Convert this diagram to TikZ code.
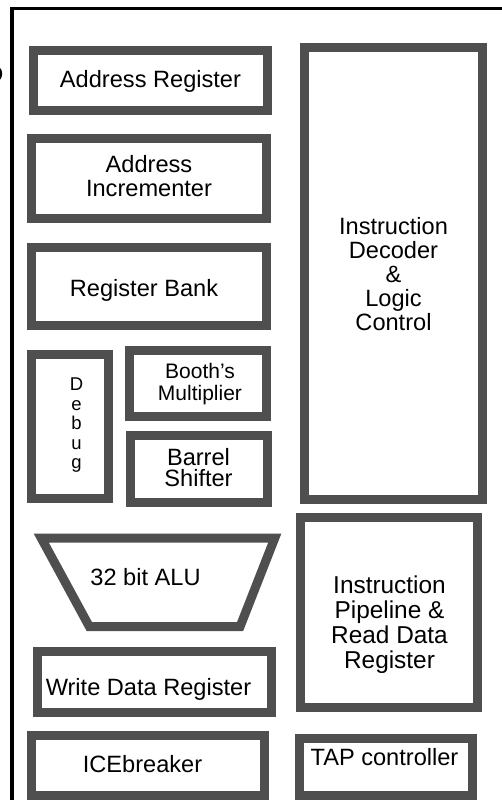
\documentclass[tikz,border=0pt]{standalone}
\usepackage{fontspec}
\setmainfont{Liberation Sans}
\definecolor{blockgray}{HTML}{4F4F4F}
\begin{document}
\begin{tikzpicture}[x=1pt,y=-1pt,
  blk/.style={draw=blockgray, line width=9pt, fill=white, inner sep=0pt},
  lbl/.style={inner sep=0pt, align=center, text=black,
              font=\fontsize{23.6pt}{24pt}\selectfont},
  small/.style={lbl, font=\fontsize{21pt}{22pt}\selectfont},
  tight/.style={lbl, font=\fontsize{23.6pt}{20.5pt}\selectfont},
  narrow/.style={lbl, font=\fontsize{18.5pt}{19.5pt}\selectfont},
  wide/.style={lbl, font=\fontsize{24.4pt}{25pt}\selectfont}]
\useasboundingbox (0,0) rectangle (501,800);

% chip outline (left and top edges)
\draw[line width=3.6pt] (12,830) -- (12,8.5) -- (530,8.5);

% piece of a neighbouring label at the far left
\begin{scope}
  \clip (0,0) rectangle (501,800);
  \node[lbl, anchor=base east] (edge) at (3.5,82) {D};
\end{scope}

% left column
\node[blk, minimum width=234pt, minimum height=60pt] (addr) at (150.5,80.5) {};
\node[blk, minimum width=234.5pt, minimum height=80pt] (incr) at (148.75,178.5) {};
\node[blk, minimum width=234.5pt, minimum height=78pt] (regb) at (148.75,286.5) {};
\node[blk, minimum width=77pt, minimum height=144.5pt] (dbg) at (69.5,426.25) {};
\node[blk, minimum width=136.5pt, minimum height=66pt] (booth) at (197.75,383.5) {};
\node[blk, minimum width=136.5pt, minimum height=67pt] (barrel) at (198.75,469) {};
\draw[draw=blockgray, line width=9pt, fill=white]
  (41.2,538) -- (274.8,538) -- (240.1,626.5) -- (89.3,626.5) -- cycle;
\node[blk, minimum width=234.5pt, minimum height=60.5pt] (wdr) at (154.25,681.75) {};
\node[blk, minimum width=233pt, minimum height=60pt] (ice) at (148,765.5) {};

% right column
\node[blk, minimum width=178pt, minimum height=452pt] (dec) at (393.5,273.5) {};
\node[blk, minimum width=177pt, minimum height=190pt] (pipe) at (388.5,612) {};
\node[blk, minimum width=173pt, minimum height=57pt] (tap) at (386,767) {};

% labels
\node[lbl, anchor=base] (addrT) at (150.5,87) {Address Register};
\node[lbl] (incrT) at (149,176) {Address\\Incrementer};
\node[lbl, anchor=base] (regbT) at (144,296) {Register Bank};
\node[narrow] (dbgT) at (76.5,425.5) {D\\e\\b\\u\\g};
\node[small] (boothT) at (200,384.2) {Booth’s\\Multiplier};
\node[tight] (barrelT) at (198.5,467.4) {Barrel\\Shifter};
\node[lbl, anchor=base] (aluT) at (145.5,585) {32 bit ALU};
\node[lbl, anchor=base] (wdrT) at (148.5,695) {Write Data Register};
\node[lbl, anchor=base] (iceT) at (142.5,772) {ICEbreaker};
\node[lbl] (decT) at (393.5,274.5) {Instruction\\Decoder\\\&\\Logic\\Control};
\node[wide] (pipeT) at (389.5,625) {Instruction\\Pipeline \&\\Read Data\\Register};
\node[lbl, anchor=base] (tapT) at (384.5,765) {TAP controller};
\end{tikzpicture}
\end{document}
